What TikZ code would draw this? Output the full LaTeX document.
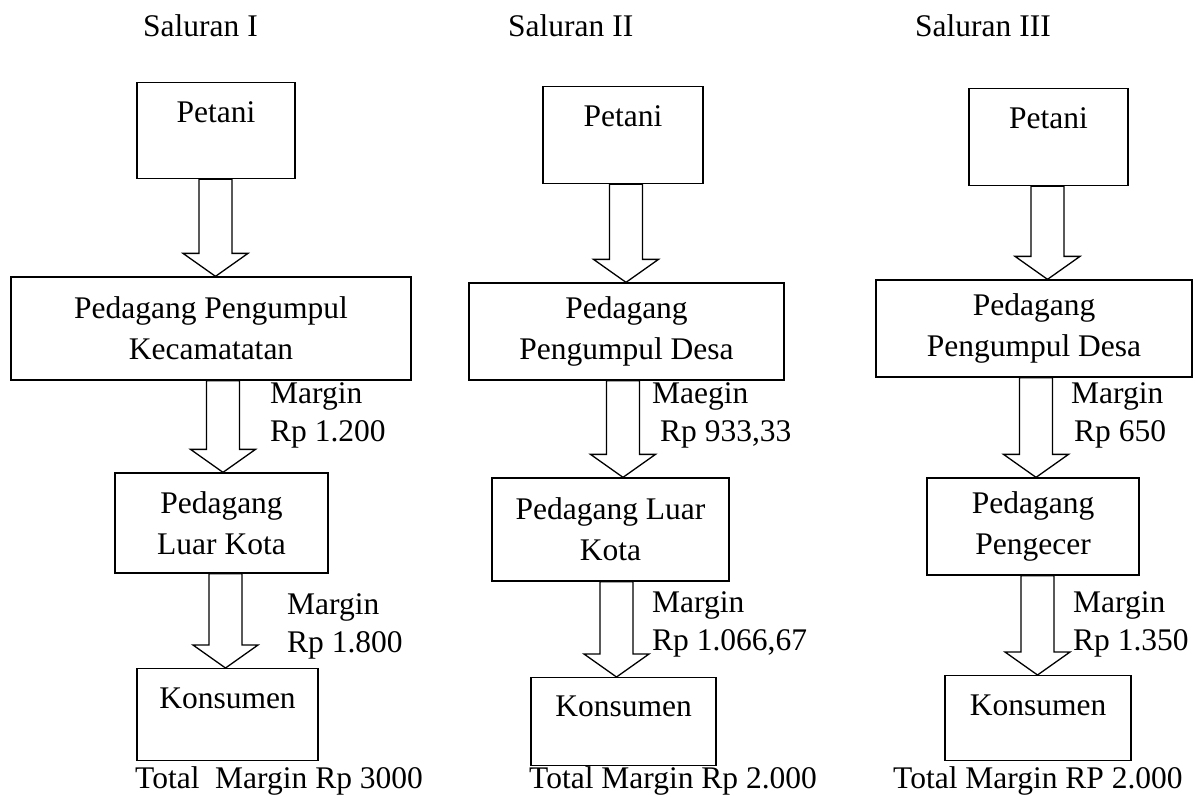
\documentclass[tikz,border=0pt]{standalone}
\usepackage{fontspec}
\setmainfont{Liberation Serif}
\usetikzlibrary{calc}

\tikzset{
  box/.style={draw, line width=1.3pt, inner sep=0pt, align=center},
  topbox/.style={box, anchor=north, text height=40pt},
  flow/.style={draw, line width=1.3pt, fill=white, line join=miter,
    to path={let \p1=(\tikztostart), \p2=(\tikztotarget) in
      (\x1-16.5pt,\y1) -- (\x1-16.5pt,\y2+23pt) -- (\x1-32.5pt,\y2+23pt)
      -- (\x2,\y2) -- (\x1+32.5pt,\y2+23pt) -- (\x1+16.5pt,\y2+23pt)
      -- (\x1+16.5pt,\y1) -- cycle}},
  marg/.style={anchor=base west, align=left, inner sep=0pt,
    font=\fontsize{31.5}{38}\selectfont},
  ttl/.style={anchor=base west, inner sep=0pt}
}

\begin{document}
\begin{tikzpicture}[x=1pt, y=-1pt, font=\fontsize{31.5}{41}\selectfont]
    \useasboundingbox (0,0) rectangle (1196,796);
    % titles
    \node[ttl] (t1) at (143,36) {Saluran I};
    \node[ttl] (t2) at (508,36) {Saluran II};
    \node[ttl] (t3) at (915,36) {Saluran III};
    % Saluran I
    \node[topbox, minimum width=158pt, text depth=56pt] (c1pet) at (216,82) {Petani};
    \node[box, minimum width=400pt, minimum height=103pt] (c1ppk) at (211,328.5) {Pedagang Pengumpul\\Kecamatatan};
    \node[box, minimum width=213pt, minimum height=100pt] (c1plk) at (221.5,523) {Pedagang\\Luar Kota};
    \node[topbox, minimum width=181pt, text depth=52pt] (c1kon) at (227.5,668) {Konsumen};
    % Saluran II
    \node[topbox, minimum width=160pt, text depth=57pt] (c2pet) at (623,86) {Petani};
    \node[box, minimum width=315pt, minimum height=97pt] (c2ppd) at (626.5,331.5) {Pedagang\\Pengumpul Desa};
    \node[box, minimum width=237pt, minimum height=103pt] (c2plk) at (610.5,529.5) {Pedagang Luar\\Kota};
    \node[topbox, minimum width=185pt, text height=39pt, text depth=49pt] (c2kon) at (623.5,677) {Konsumen};
    % Saluran III
    \node[topbox, minimum width=159pt, text depth=57pt] (c3pet) at (1048.5,88) {Petani};
    \node[box, minimum width=316pt, minimum height=97pt] (c3ppd) at (1034,328.5) {Pedagang\\Pengumpul Desa};
    \node[box, minimum width=212pt, minimum height=97pt] (c3pgc) at (1033,526.5) {Pedagang\\Pengecer};
    \node[topbox, minimum width=186pt, text depth=45pt] (c3kon) at (1038,675) {Konsumen};
    % block arrows
    \foreach \a/\b/\col in {c1pet/c1ppk/215.5, c1ppk/c1plk/223, c1plk/c1kon/225.5,
                          c2pet/c2ppd/626, c2ppd/c2plk/623, c2plk/c2kon/616.5,
                          c3pet/c3ppd/1047.5, c3ppd/c3pgc/1036, c3pgc/c3kon/1037.5}
      \draw[flow] (\col,0 |- \a.south) to (\col,0 |- \b.north);
    % margins (base = second line)
    \node[marg] (m1a) at (270,441) {Margin\\Rp 1.200};
    \node[marg] (m1b) at (287,652) {Margin\\Rp 1.800};
    \node[marg] (m2a) at (652,441) {Maegin\\\hspace*{8pt}Rp 933,33};
    \node[marg] (m2b) at (652,650) {Margin\\Rp 1.066,67};
    \node[marg] (m3a) at (1071,441) {Margin\\\hspace*{3pt}Rp 650};
    \node[marg] (m3b) at (1073,650) {Margin\\Rp 1.350};
    % totals
    \node[ttl] (s1) at (135,788) {Total\ \ Margin Rp 3000};
    \node[ttl] (s2) at (529,788) {Total Margin Rp 2.000};
    \node[ttl] (s3) at (893,788) {Total Margin RP 2.000};
\end{tikzpicture}
\end{document}
